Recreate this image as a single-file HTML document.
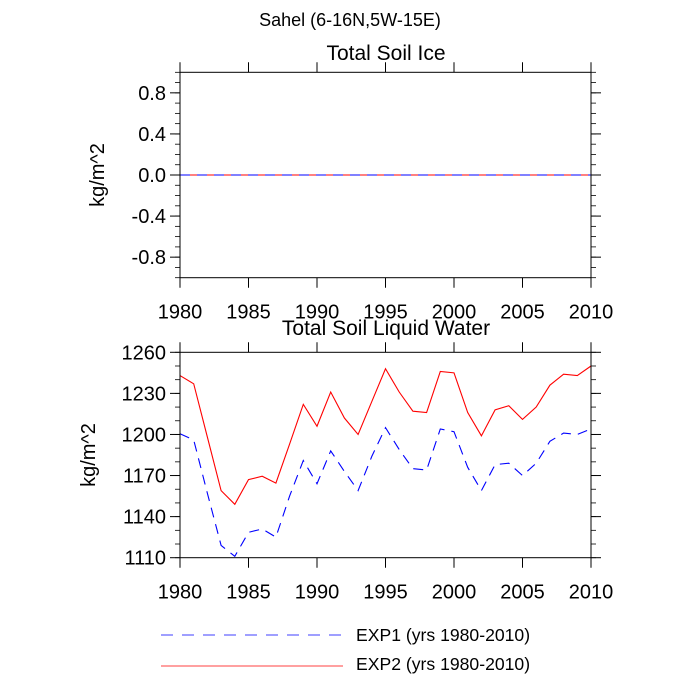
<!DOCTYPE html>
<html><head><meta charset="utf-8"><style>
html,body{margin:0;padding:0;background:#fff;}
svg{display:block;font-family:"Liberation Sans",sans-serif;}
</style></head><body>
<svg id="c" width="700" height="700" viewBox="0 0 700 700">
<text x="350" y="26" font-size="18" text-anchor="middle">Sahel (6-16N,5W-15E)</text>
<text x="386" y="60" font-size="21" text-anchor="middle">Total Soil Ice</text>
<text x="386" y="335" font-size="21" text-anchor="middle">Total Soil Liquid Water</text>
<text transform="translate(104,175) rotate(-90)" font-size="20" text-anchor="middle">kg/m^2</text>
<text transform="translate(95,455) rotate(-90)" font-size="20" text-anchor="middle">kg/m^2</text>
<g id="top"></g>
<g id="bot"></g>
<g>
<line x1="161" y1="635" x2="343" y2="635" stroke="#0000ff" stroke-dasharray="12,9" stroke-width="0.8"/>
<text x="356" y="641" font-size="17.6">EXP1 (yrs 1980-2010)</text>
<line x1="161" y1="666" x2="343" y2="666" stroke="#ff0000" stroke-width="0.8"/>
<text x="356" y="670" font-size="17.6">EXP2 (yrs 1980-2010)</text>
</g>
</svg>
<script>
const years=[1980,1981,1982,1983,1984,1985,1986,1987,1988,1989,1990,1991,1992,1993,1994,1995,1996,1997,1998,1999,2000,2001,2002,2003,2004,2005,2006,2007,2008,2009,2010];
const exp2=[1243,1237,1198,1159,1149,1167,1169.5,1164.5,1193,1222,1206,1231,1212,1200,1224,1248,1231,1217,1216,1246,1245,1216,1199,1218,1221,1211,1220,1236,1244,1243,1250];
const exp1=[1200.5,1196,1157,1119,1111,1128.5,1131,1125,1155,1181,1164,1188,1173,1159,1184,1205,1189,1175,1174,1204,1202,1176,1159,1178,1179,1170,1179,1195,1201,1200,1204];
const iceExp1=years.map(()=>0);
const iceExp2=years.map(()=>0);
const xTicks=[1980,1985,1990,1995,2000,2005,2010];
const topYTicks=[-0.8,-0.4,0.0,0.4,0.8];
const botYTicks=[1110,1140,1170,1200,1230,1260];
const NS="http://www.w3.org/2000/svg";
function mk(p,t,a){const e=document.createElementNS(NS,t);for(const k in a)e.setAttribute(k,a[k]);p.appendChild(e);return e;}
const X0=180,X1=591;
function xs(v){return X0+(v-1980)/30*(X1-X0);}
function panel(g,Y0,Y1,ymin,ymax,yt,minorStep,fmt,series){
  const ys=v=>Y1-(v-ymin)/(ymax-ymin)*(Y1-Y0);
  series.forEach(s=>{
    const pl=mk(g,'polyline',{points:s.vals.map((v,i)=>xs(years[i])+','+ys(v)).join(' '),fill:'none',stroke:s.color,'stroke-width':1.1,'stroke-dasharray':s.dash||'none'});
    
    
  });
  const r=mk(g,'rect',{x:X0,y:Y0,width:X1-X0,height:Y1-Y0,fill:'none',stroke:'#000','stroke-width':1});
  
  
  xTicks.forEach(t=>{
    const x=xs(t);
    mk(g,'line',{x1:x,y1:Y1,x2:x,y2:Y1+10,stroke:'#000'});
    mk(g,'line',{x1:x,y1:Y0,x2:x,y2:Y0-10,stroke:'#000'});
    const tx=mk(g,'text',{x:x,y:Y1+41,'font-size':20,'text-anchor':'middle'});
    tx.textContent=t;
    
    
  });
  for(let v=ymin;v<=ymax+1e-9;v+=minorStep){
    const y=ys(v);
    mk(g,'line',{x1:X0,y1:y,x2:X0-5,y2:y,stroke:'#000','stroke-width':0.8});
    mk(g,'line',{x1:X1,y1:y,x2:X1+5,y2:y,stroke:'#000','stroke-width':0.8});
  }
  yt.forEach(t=>{
    const y=ys(t);
    mk(g,'line',{x1:X0,y1:y,x2:X0-10,y2:y,stroke:'#000'});
    mk(g,'line',{x1:X1,y1:y,x2:X1+10,y2:y,stroke:'#000'});
    const tx=mk(g,'text',{x:X0-14,y:y+7,'font-size':20,'text-anchor':'end'});
    tx.textContent=fmt(t);
    
    
  });
}
panel(document.getElementById('top'),72.3,277.7,-1,1,topYTicks,0.1,v=>v.toFixed(1),
 [{vals:iceExp2,color:'#ff0000',name:'ice-exp2-line'},{vals:iceExp1,color:'#0000ff',dash:'10,7',name:'ice-exp1-line'}]);
panel(document.getElementById('bot'),352.3,557.7,1110,1260,botYTicks,10,v=>String(v),
 [{vals:exp2,color:'#ff0000',name:'liquid-exp2-line'},{vals:exp1,color:'#0000ff',dash:'10,7',name:'liquid-exp1-line'}]);
</script>
</body></html>
